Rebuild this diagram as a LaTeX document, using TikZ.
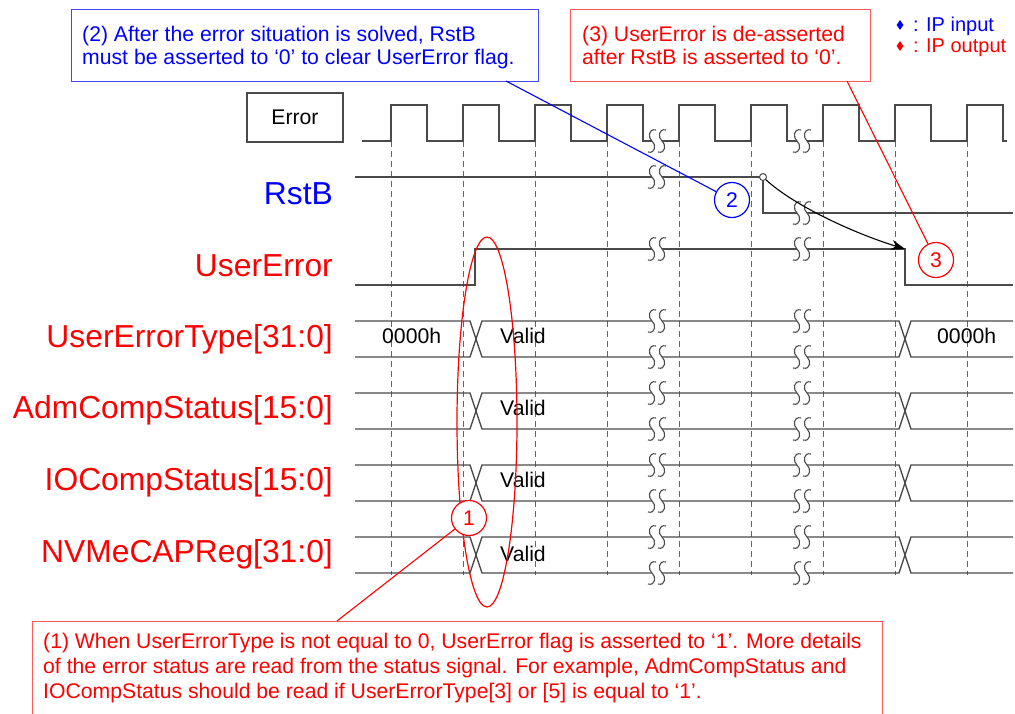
\documentclass[tikz,border=0pt]{standalone}
\usepackage{fontspec}
\setmainfont{Liberation Sans}
\usetikzlibrary{arrows.meta,shapes.geometric}

\definecolor{sig}{HTML}{4A4A4A}
\definecolor{ipred}{HTML}{FF0000}
\definecolor{ipblue}{HTML}{0000FF}
\definecolor{boxred}{HTML}{FF5A5A}
\definecolor{boxblue}{HTML}{4646FF}

\newcommand\annfont{\fontsize{21.2}{25}\selectfont}
\newcommand\legfont{\fontsize{20}{22}\selectfont}
\newcommand\sigfont{\fontsize{31.8}{36}\selectfont}

\begin{document}
\begin{tikzpicture}[x=1pt, y=-1pt,
  wave/.style={draw=sig, line width=1.3pt, line join=miter},
  gridline/.style={draw=sig!85, line width=1pt, dash pattern=on 6pt off 4pt},
  siglabel/.style={anchor=base east, inner sep=0pt, font=\sigfont},
  bustext/.style={anchor=base west, inner sep=0pt, font=\annfont, text=black},
  notetext/.style={anchor=base west, inner sep=0pt, font=\annfont},
  legtext/.style={anchor=base west, inner sep=0pt, font=\legfont},
  notebox/.style={draw, line width=1.3pt, fill=none, inner sep=0pt, anchor=north west},
  callout/.style={circle, draw, fill=white, line width=1.2pt, minimum size=35pt, inner sep=0pt, font=\annfont},
  brk/.pic={
    \fill[white] (-5,-3) rectangle (5,3);
    \foreach \d in {-5,5}
      \draw[sig, line width=1.1pt] (\d+4,-11) .. controls (\d-4,-13) and (\d-4,-3) .. (\d,0)
                                   .. controls (\d+4,3) and (\d+4,13) .. (\d-4,11);
  }]
\useasboundingbox (0,0) rectangle (1015,713);

% clock-edge grid
\foreach \k in {0,...,8}
  \draw[gridline] ({391+72*\k},141) -- ({391+72*\k},575);

% Error (clock-like) waveform
\draw[wave] (362,141)
  \foreach \k in {0,...,8} { -- ({391+72*\k},141) -- ({391+72*\k},105) -- ({427+72*\k},105) -- ({427+72*\k},141) }
  -- (1007,141);

% RstB
\draw[wave] (355,177) -- (763,177) -- (763,213) -- (1013,213);

% UserError
\draw[wave] (355,285) -- (475,285) -- (475,249) -- (905,249) -- (905,285) -- (1013,285);

% bus signals
\foreach \t in {321,393,465,537} {
  \draw[wave] (355,\t) -- (470,\t) -- (482,\t+36) -- (899,\t+36) -- (911,\t) -- (1013,\t);
  \draw[wave] (355,\t+36) -- (470,\t+36) -- (482,\t) -- (899,\t) -- (911,\t+36) -- (1013,\t+36);
}

% time breaks
\pic at (657,141) {brk};
\pic at (802,141) {brk};
\pic at (657,177) {brk};
\pic at (802,213) {brk};
\pic at (657,249) {brk};
\pic at (802,249) {brk};
\foreach \t in {321,357,393,429,465,501,537,573} {
  \pic at (657,\t) {brk};
  \pic at (802,\t) {brk};
}

% RstB -> UserError causality arrow
\node[circle, draw=sig, fill=white, line width=1pt, minimum size=7pt, inner sep=0pt] (rc) at (763,177) {};
\coordinate (ufall) at (905,249);
\draw[black, line width=1.1pt, -{Stealth[length=14pt, width=10pt]}]
  (rc) .. controls (792,204) and (850,232) .. (ufall);

% signal names
\node[siglabel, text=ipblue] (lrst) at (333,204) {RstB};
\node[siglabel, text=ipred] (lue) at (333,276) {UserError};
\node[siglabel, text=ipred] (luet) at (333,347) {UserErrorType[31:0]};
\node[siglabel, text=ipred] (ladm) at (333,418) {AdmCompStatus[15:0]};
\node[siglabel, text=ipred] (lio) at (333,490) {IOCompStatus[15:0]};
\node[siglabel, text=ipred] (lnvme) at (333,562) {NVMeCAPReg[31:0]};

\node[draw=sig, line width=1.2pt, minimum width=96pt, minimum height=49pt, inner sep=0pt, font=\annfont] (lerr) at (295,117.5) {Error};

% bus values
\node[bustext] (v0) at (382,343) {0000h};
\node[bustext] (v1) at (500,343) {Valid};
\node[bustext] (v2) at (500,415) {Valid};
\node[bustext] (v3) at (500,487) {Valid};
\node[bustext] (v4) at (500,561) {Valid};
\node[bustext] (v5) at (937,343) {0000h};

% highlight around the valid transitions
\draw[ipred, line width=1.2pt] (487,422) ellipse [x radius=30, y radius=185];

% note boxes
\node[notebox, draw=boxblue, minimum width=467pt, minimum height=72pt] (b2) at (71,9) {};
\node[notetext, text=ipblue] (b2a) at (82,41) {(2) After the error situation is solved, RstB};
\node[notetext, text=ipblue] (b2b) at (82,64) {must be asserted to ‘0’ to clear UserError flag.};

\node[notebox, draw=boxred, minimum width=300pt, minimum height=72pt] (b3) at (570,9) {};
\node[notetext, text=ipred] (b3a) at (582,41) {(3) UserError is de-asserted};
\node[notetext, text=ipred] (b3b) at (582,64) {after RstB is asserted to ‘0’.};

\node[notebox, draw=boxred, minimum width=850pt, minimum height=110pt] (b1) at (32,621) {};
\node[notetext, text=ipred] (b1a) at (43,648) {(1) When UserErrorType is not equal to 0, UserError flag is asserted to ‘1’. More details};
\node[notetext, text=ipred] (b1b) at (43,673) {of the error status are read from the status signal. For example, AdmCompStatus and};
\node[notetext, text=ipred] (b1c) at (43,698) {IOCompStatus should be read if UserErrorType[3] or [5] is equal to ‘1’.};

% callouts
\coordinate (p1) at (337,621);
\coordinate (p2) at (506,81);
\coordinate (p3) at (847,81);
\node[callout, draw=ipred, text=ipred] (c1) at (469,518) {1};
\node[callout, draw=ipblue, text=ipblue] (c2) at (732,200) {2};
\node[callout, draw=ipred, text=ipred] (c3) at (936,260) {3};
\draw[ipred, line width=1.1pt] (c1) -- (p1);
\draw[ipblue, line width=1.1pt] (p2) -- (c2);
\draw[ipred, line width=1.1pt] (p3) -- (c3);

% legend
\node[diamond, fill=ipblue, minimum width=7pt, minimum height=10pt, inner sep=0pt] (d1) at (900,25) {};
\node[legtext, text=ipblue] (lg1) at (913,31) {: IP input};
\node[diamond, fill=ipred, minimum width=7pt, minimum height=10pt, inner sep=0pt] (d2) at (900,46) {};
\node[legtext, text=ipred] (lg2) at (913,52) {: IP output};
\end{tikzpicture}
\end{document}
